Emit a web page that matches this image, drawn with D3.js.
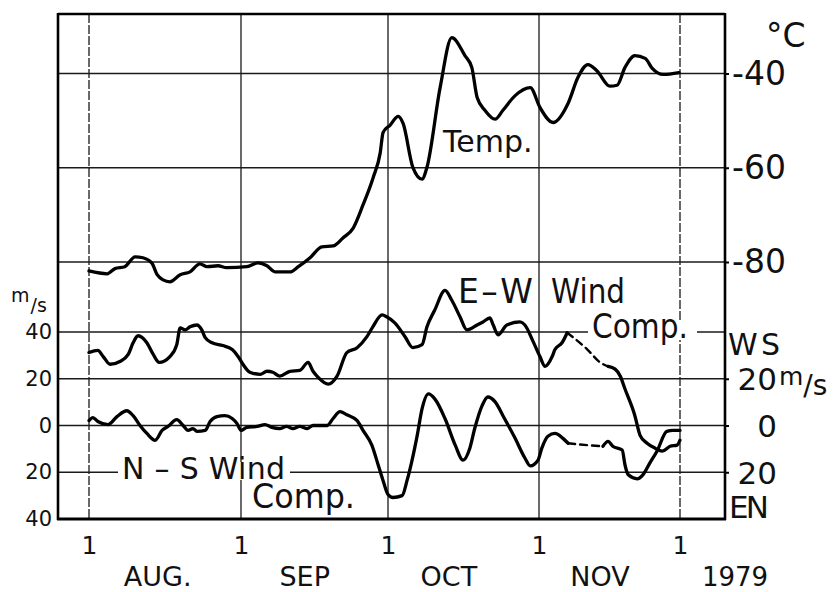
<!DOCTYPE html>
<html><head><meta charset="utf-8">
<script src="https://cdn.jsdelivr.net/npm/d3@7"></script>
<style>
body{margin:0;background:#fff}
svg{display:block}
text{font-family:"DejaVu Sans",sans-serif;fill:#111}
</style>
</head><body>
<svg id="c" width="835" height="592"></svg>
<script>
// ---------- data (x = days since 1 Aug 1979) ----------
const monthStarts = [0, 31, 61, 92, 122];
const monthNames = ["AUG.", "SEP", "OCT", "NOV"];
const monthLabelDays = [14, 44, 73.5, 105];
const yearLabel = "1979";
const tempTicks = [-40, -60, -80];
const windTicks = [40, 20, 0, -20, -40];
const windGrid = [40, 20, 0, -20];
const windRightTicks = [20, 0, -20];

const tempDays = [0,3.7,5.3,7.3,9.4,11.0,12.8,13.9,15.1,16.5,18.6,20.6,22.6,24.1,26.3,28.1,32.2,34.5,36.3,38.0,41.0,42.7,45.1,47.5,49.8,51.8,53.9,55.9,58.0,59.4,60.0,61.4,63.1,64.1,66.1,68.0,69.0,71.7,74.1,76.8,78.2,79.3,80.9,83.0,84.6,87.1,90.2,92.2,95.0,98.2,100.3,102.4,104.3,107.1,108.6,110.3,112.4,114.6,116.1,118.4,121.8];
const tempVals = [-81.9,-82.5,-81.4,-81.0,-78.9,-79.1,-80.2,-82.7,-83.8,-84.2,-82.7,-82.1,-80.4,-81.0,-80.8,-81.2,-81.0,-80.2,-80.8,-82.1,-82.1,-81.0,-79.1,-76.8,-76.6,-74.9,-72.8,-67.9,-62.0,-56.9,-52.5,-51.0,-49.1,-50.6,-59.9,-62.4,-59.9,-43.0,-32.4,-36.2,-38.7,-45.1,-47.8,-49.7,-47.8,-44.7,-43.0,-47.2,-50.4,-46.3,-40.8,-38.1,-39.4,-42.7,-42.5,-38.7,-36.2,-36.8,-38.9,-40.2,-39.8];

const ewDays = [0,1.8,2.9,4.3,6.3,8.0,9.0,10.0,11.8,13.1,14.3,16.5,17.9,18.6,19.6,20.6,22.0,23.0,23.7,25.1,27.3,29.2,30.4,31.4,32.8,34.9,36.3,37.5,38.9,41.0,43.0,44.7,45.7,46.7,48.8,50.6,52.6,54.7,56.7,57.9,59.8,60.8,62.4,64.5,66.1,68.0,69.0,70.6,72.7,74.1,75.8,77.2,79.3,80.5,81.9,82.6,83.6,85.4,88.1,89.1,90.8,92.2,93.3,94.8,95.4,96.9,98.0,102.3,105.0,106.7,108.2,109.3,110.3,112.4,113.5,115.0,116.7,118.2,119.9,121.4,122.0];
const ewVals = [31.2,32.1,29.5,26.2,27.4,30.4,35.4,38.4,35.4,30.4,27.0,29.5,34.6,41.8,40.9,42.2,43.0,40.9,37.6,35.4,34.2,32.5,29.5,26.2,22.8,21.9,23.2,22.8,21.1,23.2,23.6,27.0,23.2,20.7,17.7,21.1,31.2,33.3,38.0,42.2,47.3,46.4,43.9,38.0,33.3,34.6,42.2,49.4,57.8,53.6,46.4,40.9,43.0,44.3,46.0,43.0,38.8,43.0,44.3,43.0,35.9,29.5,25.3,29.5,32.5,35.4,39.7,32.5,27.0,25.3,24.1,21.1,15.6,4.2,-4.2,-7.6,-9.7,-11.0,-8.9,-8.4,-6.3];
const ewMissing = [98.0, 106.7];   // interval drawn dashed

const nsDays = [0,0.8,1.8,3.9,5.7,7.7,9.0,10.4,11.8,13.5,14.9,16.1,17.9,19.2,20.2,21.2,22.0,23.7,24.7,26.1,27.7,29.2,30.2,31.0,32.2,34.3,35.9,37.3,38.9,40.3,41.6,43.0,44.5,45.7,48.6,49.8,51.2,52.6,54.7,55.9,57.7,59.0,60.0,61.0,62.0,63.9,64.9,65.9,67.0,68.0,69.3,70.6,72.7,74.8,76.4,77.8,78.8,80.3,81.5,83.0,84.6,87.1,89.1,90.2,91.8,92.6,93.9,95.4,97.1,98.2,102.2,105.6,106.7,107.7,109.7,110.3,111.0,112.9,114.1,115.6,117.1,119.2,120.5,122.0];
const nsVals = [2.1,3.4,1.7,0.4,3.8,6.3,4.2,0,-3.4,-6.3,-2.1,-0.4,2.5,0,-2.1,-1.3,-2.5,-2.1,1.7,3.8,4.2,3.0,0.8,-2.1,-0.8,-0.4,0.4,-0.8,-1.3,-0.4,-1.3,-0.4,-1.3,0,0,3.0,5.9,4.6,2.1,-2.1,-8.4,-16.9,-23.6,-29.5,-30.8,-30.0,-23.6,-15.2,-4.2,7.2,13.5,11.4,3.0,-8.4,-14.8,-9.7,-1.3,8.4,12.2,10.1,4.2,-5.5,-13.9,-17.3,-14.8,-9.7,-4.6,-3.4,-5.5,-7.6,-8.4,-8.9,-6.8,-8.9,-10.5,-16.9,-21.1,-22.8,-21.1,-16.0,-11.0,-2.5,-2.1,-2.1];
const nsMissing = [98.2, 105.6];

// ---------- layout ----------
const L = 58, R = 725, T = 14, B = 519;
const svg = d3.select("#c");
const x = d3.scaleLinear().domain(monthStarts).range([89, 241, 388, 539, 680]);
const yT = d3.scaleLinear().domain([-40, -80]).range([73.5, 262]);
const yW = d3.scaleLinear().domain([40, -40]).range([332, 519]);

// grid
const grid = svg.append("g").attr("stroke", "#1a1a1a").attr("stroke-width", 1.3);
tempTicks.forEach(t => grid.append("line").attr("x1", L).attr("x2", R).attr("y1", yT(t)).attr("y2", yT(t)));
windGrid.forEach(t => grid.append("line").attr("x1", L).attr("x2", R).attr("y1", yW(t)).attr("y2", yW(t)));
monthStarts.forEach((d, i) => {
  grid.append("line").attr("x1", x(d)).attr("x2", x(d)).attr("y1", T).attr("y2", B)
    .attr("stroke-dasharray", (i === 0 || i === monthStarts.length - 1) ? "9,2" : null);
});

// knock-outs behind labels that interrupt grid lines
svg.append("rect").attr("x", 118).attr("y", 462).attr("width", 172).attr("height", 18).attr("fill", "#fff");
svg.append("rect").attr("x", 588).attr("y", 322).attr("width", 109).attr("height", 18).attr("fill", "#fff");

// series
function drawSeries(days, vals, yScale, missing) {
  const pts = days.map((d, i) => [d, vals[i]]);
  const line = d3.line().x(p => x(p[0])).y(p => yScale(p[1])).curve(d3.curveMonotoneX);
  const segs = [];
  if (missing) {
    segs.push({p: pts.filter(p => p[0] <= missing[0]), dash: null});
    segs.push({p: pts.filter(p => p[0] >= missing[0] && p[0] <= missing[1]), dash: "7,5"});
    segs.push({p: pts.filter(p => p[0] >= missing[1]), dash: null});
  } else segs.push({p: pts, dash: null});
  segs.forEach(s => {
    svg.append("path").attr("d", line(s.p)).attr("fill", "none").attr("stroke", "#000")
      .attr("stroke-width", s.dash ? 2.4 : 3.3).attr("stroke-linejoin", "round").attr("stroke-linecap", "round")
      .attr("stroke-dasharray", s.dash);
  });
}
drawSeries(tempDays, tempVals, yT, null);
drawSeries(ewDays, ewVals, yW, ewMissing);
drawSeries(nsDays, nsVals, yW, nsMissing);

// frame
const fr = svg.append("g").attr("stroke", "#000").attr("fill", "none");
fr.append("line").attr("x1", L).attr("x2", L).attr("y1", T - 1).attr("y2", B + 1).attr("stroke-width", 2.6);
fr.append("line").attr("x1", L).attr("x2", R).attr("y1", T).attr("y2", T).attr("stroke-width", 2.4);
fr.append("line").attr("x1", R).attr("x2", R).attr("y1", T - 1).attr("y2", B + 1).attr("stroke-width", 2.6);
fr.append("line").attr("x1", L - 1).attr("x2", R + 1).attr("y1", B).attr("y2", B).attr("stroke-width", 3.2);

// left wind axis
const la = svg.append("g").attr("transform", `translate(${L},0)`)
  .call(d3.axisLeft(yW).tickValues(windTicks).tickFormat(d => Math.abs(d)).tickSize(0).tickPadding(6));
la.select(".domain").remove();
la.selectAll("text").style("font-size", "21px").style("font-family", "DejaVu Sans").attr("fill", "#111");

// right temperature axis
const ra = svg.append("g").attr("transform", `translate(${R},0)`)
  .call(d3.axisRight(yT).tickValues(tempTicks).tickFormat(d => "-" + Math.abs(d)).tickSize(4).tickPadding(3));
ra.select(".domain").remove();
ra.selectAll("line").attr("stroke", "#000").attr("stroke-width", 2);
ra.selectAll("text").style("font-size", "33px").style("font-family", "DejaVu Sans").attr("fill", "#111");

// right wind axis
const rw = svg.append("g").attr("transform", `translate(${R},0)`)
  .call(d3.axisRight(yW).tickValues(windRightTicks).tickFormat(d => Math.abs(d)).tickSize(4).tickPadding(3));
rw.select(".domain").remove();
rw.selectAll("line").attr("stroke", "#000").attr("stroke-width", 2);
rw.selectAll("text").attr("text-anchor", "end").attr("x", 52).attr("dy", "0.36em")
  .style("font-size", "31px").style("font-family", "DejaVu Sans").attr("fill", "#111");

// bottom axis
const ba = svg.append("g").attr("transform", `translate(0,${B})`)
  .call(d3.axisBottom(x).tickValues(monthStarts).tickFormat(() => "1").tickSize(0).tickPadding(17));
ba.select(".domain").remove();
ba.selectAll("text").style("font-size", "25px").style("font-family", "DejaVu Sans").attr("fill", "#111");

svg.selectAll(".mlab").data(monthNames).join("text").attr("class", "mlab")
  .attr("x", (d, i) => x(monthLabelDays[i])).attr("y", 586).attr("text-anchor", "middle")
  .style("font-size", "27px").text(d => d);
svg.append("text").attr("x", 735).attr("y", 586).attr("text-anchor", "middle").style("font-size", "26px").text(yearLabel);

// units
svg.append("text").attr("x", 766).attr("y", 47).style("font-size", "33px").text("°C");
svg.append("text").attr("x", 728).attr("y", 355).style("font-size", "30px").attr("textLength", 52).text("WS");
const ru = svg.append("text").attr("x", 779).attr("y", 385).style("font-size", "25px");
ru.append("tspan").text("m");
ru.append("tspan").attr("dy", 10).style("font-size", "28px").text("/s");
svg.append("text").attr("x", 729).attr("y", 518).style("font-size", "31px").attr("textLength", 40).text("EN");
const lu = svg.append("text").attr("x", 11).attr("y", 302).style("font-size", "19px");
lu.append("tspan").text("m");
lu.append("tspan").attr("dx", 1).attr("dy", 10).text("/s");

// series labels
svg.append("text").attr("x", 443).attr("y", 152).style("font-size", "30px").text("Temp.");
svg.append("text").attr("x", 458).attr("y", 303).style("font-size", "33px").attr("textLength", 75).attr("lengthAdjust", "spacing").text("E–W");
svg.append("text").attr("x", 551).attr("y", 303).style("font-size", "33px").attr("textLength", 74).attr("lengthAdjust", "spacingAndGlyphs").text("Wind");
svg.append("text").attr("x", 592).attr("y", 338).style("font-size", "33px").attr("textLength", 96).attr("lengthAdjust", "spacingAndGlyphs").text("Comp.");
svg.append("text").attr("x", 122).attr("y", 479).style("font-size", "30px").attr("textLength", 163).attr("lengthAdjust", "spacing").text("N – S Wind");
svg.append("text").attr("x", 252).attr("y", 508).style("font-size", "33px").attr("textLength", 103).attr("lengthAdjust", "spacingAndGlyphs").text("Comp.");
</script>
</body></html>
